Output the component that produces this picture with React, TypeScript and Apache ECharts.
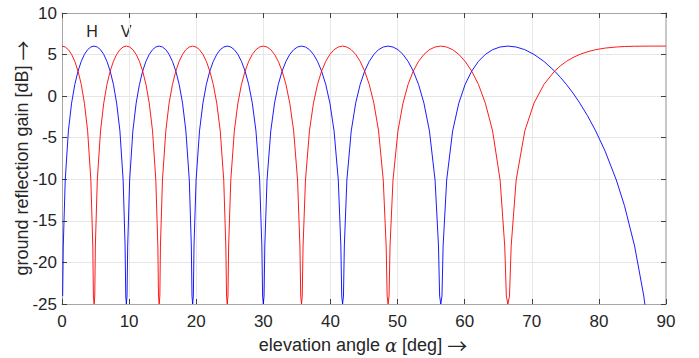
import React, { useEffect, useRef } from "react";
import * as echarts from "echarts";

const xTicks = { min: 0, max: 90, interval: 10 };
const yTicks = { min: -25, max: 10, interval: 5 };

const blueAngle = [
  0.10, 0.19, 0.48, 0.95, 1.43, 1.91, 2.39, 2.87, 3.34, 3.82, 4.30, 4.78, 5.26, 5.74, 6.22, 6.70, 7.18, 7.66, 8.14, 8.63, 9.11, 9.40, 9.50, 9.59, 9.69, 9.79,
  10.08, 10.56, 11.05, 11.54, 12.02, 12.51, 13.00, 13.49, 13.98, 14.48, 14.97, 15.47, 15.96, 16.46, 16.96, 17.46, 17.96, 18.46, 18.97, 19.27, 19.37, 19.47, 19.57, 19.67,
  19.98, 20.49, 21.00, 21.51, 22.02, 22.54, 23.06, 23.58, 24.10, 24.62, 25.15, 25.68, 26.21, 26.74, 27.28, 27.82, 28.36, 28.90, 29.45, 29.78, 29.89, 30.00, 30.11, 30.22,
  30.55, 31.11, 31.67, 32.23, 32.80, 33.37, 33.94, 34.52, 35.10, 35.69, 36.28, 36.87, 37.47, 38.07, 38.68, 39.30, 39.92, 40.54, 41.17, 41.55, 41.68, 41.81, 41.94, 42.07,
  42.45, 43.10, 43.76, 44.43, 45.10, 45.78, 46.47, 47.17, 47.87, 48.59, 49.32, 50.06, 50.81, 51.57, 52.34, 53.13, 53.93, 54.75, 55.59, 56.10, 56.27, 56.44, 56.62, 56.79,
  57.32, 58.21, 59.13, 60.07, 61.05, 62.05, 63.08, 64.16, 65.28, 66.44, 67.67, 68.96, 70.33, 71.81, 73.40, 74.26, 75.16, 76.13, 77.16, 78.28, 79.52, 80.93, 82.60, 83.81,
  85.32, 86.69, 87.66,
];
const blueGain = [
  -24.04, -18.02, -10.09, -4.18, -0.84, 1.41, 3.01, 4.18, 5.02, 5.59, 5.91, 6.02, 5.91, 5.59, 5.02, 4.18, 3.01, 1.41, -0.84, -4.18, -10.09, -18.02, -24.04, -25, -24.04, -18.02,
  -10.09, -4.18, -0.84, 1.41, 3.01, 4.18, 5.02, 5.59, 5.91, 6.02, 5.91, 5.59, 5.02, 4.18, 3.01, 1.41, -0.84, -4.18, -10.09, -18.02, -24.04, -25, -24.04, -18.02,
  -10.09, -4.18, -0.84, 1.41, 3.01, 4.18, 5.02, 5.59, 5.91, 6.02, 5.91, 5.59, 5.02, 4.18, 3.01, 1.41, -0.84, -4.18, -10.09, -18.02, -24.04, -25, -24.04, -18.02,
  -10.09, -4.18, -0.84, 1.41, 3.01, 4.18, 5.02, 5.59, 5.91, 6.02, 5.91, 5.59, 5.02, 4.18, 3.01, 1.41, -0.84, -4.18, -10.09, -18.02, -24.04, -25, -24.04, -18.02,
  -10.09, -4.18, -0.84, 1.41, 3.01, 4.18, 5.02, 5.59, 5.91, 6.02, 5.91, 5.59, 5.02, 4.18, 3.01, 1.41, -0.84, -4.18, -10.09, -18.02, -24.04, -25, -24.04, -18.02,
  -10.09, -4.18, -0.84, 1.41, 3.01, 4.18, 5.02, 5.59, 5.91, 6.02, 5.91, 5.59, 5.02, 4.18, 3.01, 2.27, 1.41, 0.38, -0.84, -2.32, -4.18, -6.62, -10.09, -13.17,
  -18.02, -24.04, -30.06,
];

const redAngle = [
  0.00, 0.48, 0.95, 1.43, 1.91, 2.39, 2.87, 3.34, 3.82, 4.30, 4.59, 4.68, 4.78, 4.88, 4.97,
  5.26, 5.74, 6.22, 6.70, 7.18, 7.66, 8.14, 8.63, 9.11, 9.59, 10.08, 10.56, 11.05, 11.54, 12.02, 12.51, 13.00, 13.49, 13.98, 14.28, 14.38, 14.48, 14.58, 14.67,
  14.97, 15.47, 15.96, 16.46, 16.96, 17.46, 17.96, 18.46, 18.97, 19.47, 19.98, 20.49, 21.00, 21.51, 22.02, 22.54, 23.06, 23.58, 24.10, 24.41, 24.52, 24.62, 24.73, 24.83,
  25.15, 25.68, 26.21, 26.74, 27.28, 27.82, 28.36, 28.90, 29.45, 30.00, 30.55, 31.11, 31.67, 32.23, 32.80, 33.37, 33.94, 34.52, 35.10, 35.45, 35.57, 35.69, 35.80, 35.92,
  36.28, 36.87, 37.47, 38.07, 38.68, 39.30, 39.92, 40.54, 41.17, 41.81, 42.45, 43.10, 43.76, 44.43, 45.10, 45.78, 46.47, 47.17, 47.87, 48.30, 48.45, 48.59, 48.73, 48.88,
  49.32, 50.06, 50.81, 51.57, 52.34, 53.13, 53.93, 54.75, 55.59, 56.44, 57.32, 58.21, 59.13, 60.07, 61.05, 62.05, 63.08, 64.16, 65.28, 65.97, 66.21, 66.44, 66.68, 66.93,
  67.67, 68.96, 70.33, 71.81, 73.40, 74.26, 75.16, 76.13, 77.16, 78.28, 79.52, 80.93, 82.60, 83.81, 85.32, 87.66, 90.00,
];
const redGain = [
  6.02, 5.91, 5.59, 5.02, 4.18, 3.01, 1.41, -0.84, -4.18, -10.09, -18.02, -24.04, -25, -24.04, -18.02,
  -10.09, -4.18, -0.84, 1.41, 3.01, 4.18, 5.02, 5.59, 5.91, 6.02, 5.91, 5.59, 5.02, 4.18, 3.01, 1.41, -0.84, -4.18, -10.09, -18.02, -24.04, -25, -24.04, -18.02,
  -10.09, -4.18, -0.84, 1.41, 3.01, 4.18, 5.02, 5.59, 5.91, 6.02, 5.91, 5.59, 5.02, 4.18, 3.01, 1.41, -0.84, -4.18, -10.09, -18.02, -24.04, -25, -24.04, -18.02,
  -10.09, -4.18, -0.84, 1.41, 3.01, 4.18, 5.02, 5.59, 5.91, 6.02, 5.91, 5.59, 5.02, 4.18, 3.01, 1.41, -0.84, -4.18, -10.09, -18.02, -24.04, -25, -24.04, -18.02,
  -10.09, -4.18, -0.84, 1.41, 3.01, 4.18, 5.02, 5.59, 5.91, 6.02, 5.91, 5.59, 5.02, 4.18, 3.01, 1.41, -0.84, -4.18, -10.09, -18.02, -24.04, -25, -24.04, -18.02,
  -10.09, -4.18, -0.84, 1.41, 3.01, 4.18, 5.02, 5.59, 5.91, 6.02, 5.91, 5.59, 5.02, 4.18, 3.01, 1.41, -0.84, -4.18, -10.09, -18.02, -24.04, -25, -24.04, -18.02,
  -10.09, -4.18, -0.84, 1.41, 3.01, 3.64, 4.18, 4.64, 5.02, 5.33, 5.59, 5.78, 5.91, 5.97, 6.00, 6.02, 6.02,
];

const curveLabels = ["H", "V"];
const xTitle = "elevation angle";
const xUnit = "[deg]";
const yTitle = "ground reflection gain [dB]";
const arrow = "\u2192";

const FONT = "'Liberation Sans', Arial, Helvetica, sans-serif";
const TEXT = "#262626";

export default function App() {
  const ref = useRef<HTMLDivElement>(null);
  useEffect(() => {
    if (!ref.current) return;
    const chart = echarts.init(ref.current, undefined, { renderer: "svg" });
    const zip = (xs: number[], ys: number[]) => xs.map((x, i) => [x, ys[i]]);
    const baseAxis = {
      type: "value" as const,
      axisLine: { show: true, onZero: false, lineStyle: { color: "#a6a6a6", width: 1 } },
      axisTick: { show: true, inside: true, length: 5, lineStyle: { color: "#404040" } },
      splitLine: { show: false },
    };
    const arrowStyle = { fontFamily: "'Noto Sans CJK JP', 'DejaVu Sans', sans-serif", fontSize: 20, fill: TEXT };
    chart.setOption({
      animation: false,
      backgroundColor: "#ffffff",
      grid: { left: 62, right: 33, top: 13, bottom: 54, containLabel: false },
      xAxis: [
        {
          ...baseAxis,
          ...xTicks,
          position: "bottom",
          axisLabel: { color: TEXT, fontSize: 17, fontFamily: FONT, margin: 9 },
          splitLine: { show: true, lineStyle: { color: "#e6e6e6", width: 1 } },
        },
        { ...baseAxis, ...xTicks, position: "top", axisLabel: { show: false } },
      ],
      yAxis: [
        {
          ...baseAxis,
          ...yTicks,
          position: "left",
          axisLabel: { color: TEXT, fontSize: 17, fontFamily: FONT, margin: 5 },
          splitLine: { show: true, lineStyle: { color: "#e6e6e6", width: 1 } },
        },
        {
          ...baseAxis,
          ...yTicks,
          position: "right",
          axisLabel: { show: false },
          axisLine: { show: true, onZero: false, lineStyle: { color: "#c8c8c8", width: 2 } },
        },
      ],
      series: [
        {
          name: "blue",
          type: "line",
          data: zip(blueAngle, blueGain),
          showSymbol: false,
          clip: true,
          lineStyle: { color: "#0000ff", width: 0.9 },
          itemStyle: { color: "#0000ff" },
        },
        {
          name: "red",
          type: "line",
          data: zip(redAngle, redGain),
          showSymbol: false,
          clip: true,
          lineStyle: { color: "#ff0000", width: 0.9 },
          itemStyle: { color: "#ff0000" },
        },
      ],
      graphic: [
        {
          type: "text",
          x: 92,
          y: 31,
          style: { text: curveLabels[0], font: `16px ${FONT}`, fill: TEXT, align: "center", verticalAlign: "middle" },
        },
        {
          type: "text",
          x: 126,
          y: 31,
          style: { text: curveLabels[1], font: `16px ${FONT}`, fill: TEXT, align: "center", verticalAlign: "middle" },
        },
        {
          type: "text",
          x: 363,
          y: 345,
          style: {
            text: `${xTitle} {a|\u03b1} ${xUnit} {r|${arrow}}`,
            font: `18px ${FONT}`,
            fill: TEXT,
            align: "center",
            verticalAlign: "middle",
            rich: {
              a: { fontFamily: "'DejaVu Serif', 'Liberation Serif', serif", fontStyle: "italic", fontSize: 18, fill: TEXT },
              r: arrowStyle,
            },
          },
        },
        {
          type: "text",
          x: 22,
          y: 158,
          rotation: Math.PI / 2,
          style: {
            text: `${yTitle} {r|${arrow}}`,
            font: `18px ${FONT}`,
            fill: TEXT,
            align: "center",
            verticalAlign: "middle",
            rich: { r: arrowStyle },
          },
        },
      ],
    });
    return () => chart.dispose();
  }, []);
  return <div ref={ref} style={{ position: "fixed", left: 0, top: 0, width: 699, height: 358 }} />;
}
